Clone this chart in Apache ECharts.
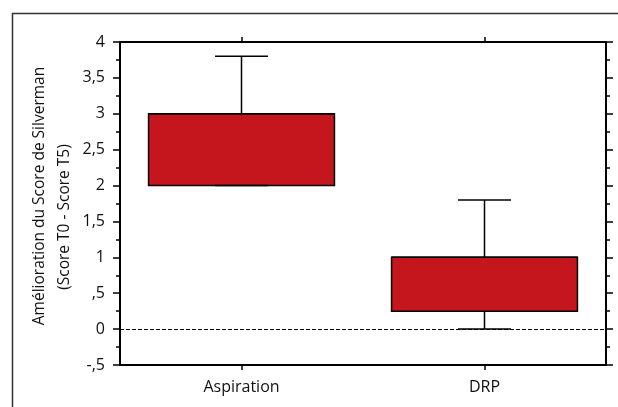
<!DOCTYPE html>
<html>
<head>
<meta charset="utf-8">
<script src="https://cdn.jsdelivr.net/npm/echarts@6/dist/echarts.min.js"></script>
<style>
html,body{margin:0;padding:0;background:#fff;}
#chart{width:618px;height:407px;}
</style>
</head>
<body>
<div id="chart"></div>
<script>
// ---- data ----
const categories = ['Aspiration', 'DRP'];
const whiskerLow = [2, 0];
const q1Values = [2, 0.25];
const medianValues = [3, 1];
const q3Values = [3, 1];
const whiskerHigh = [3.8, 1.8];
const yTickLabels = ['-,5', '0', ',5', '1', '1,5', '2', '2,5', '3', '3,5', '4'];
const yMin = -0.5, yMax = 4, yStep = 0.5;
const yTitle1 = 'Amélioration du Score de Silverman';
const yTitle2 = '(Score T0 - Score T5)';

const FONT = 'Open Sans';
const boxData = categories.map((c, i) => [i, whiskerLow[i], q1Values[i], medianValues[i], q3Values[i], whiskerHigh[i]]);

const chart = echarts.init(document.getElementById('chart'), null, {renderer: 'canvas'});

const yAxisBase = {
  type: 'value', min: yMin, max: yMax, interval: yStep,
  axisLine: {show: true, lineStyle: {color: '#000', width: 2}},
  axisTick: {show: true, inside: false, length: 7, lineStyle: {color: '#000', width: 1.5}},
  minorTick: {show: true, splitNumber: 2, length: 4, lineStyle: {color: '#000', width: 1.5}},
  splitLine: {show: false}
};

const xAxisBase = {
  type: 'category', data: categories, boundaryGap: true,
  axisLine: {show: true, onZero: false, lineStyle: {color: '#000', width: 2}},
  axisTick: {show: true, alignWithLabel: true, inside: false, length: 5, lineStyle: {color: '#000', width: 1.5}},
  splitLine: {show: false}
};

chart.setOption({
  animation: false,
  backgroundColor: '#fff',
  grid: {left: 120, right: 12, top: 42, bottom: 42},
  xAxis: [
    Object.assign({}, xAxisBase, {position: 'bottom',
      axisLabel: {show: true, margin: 14, color: '#111', fontFamily: FONT, fontSize: 16}}),
    Object.assign({}, xAxisBase, {position: 'top', axisLabel: {show: false}})
  ],
  yAxis: [
    Object.assign({}, yAxisBase, {position: 'left',
      axisLabel: {show: true, margin: 15, color: '#111', fontFamily: FONT, fontSize: 16,
        formatter: v => yTickLabels[Math.round((v - yMin) / yStep)]}}),
    Object.assign({}, yAxisBase, {position: 'right', axisLabel: {show: false}})
  ],
  graphic: [
    {type: 'rect', z: -10, silent: true,
     shape: {x: 12.5, y: 13.5, width: 700, height: 600},
     style: {fill: 'none', stroke: '#333', lineWidth: 1.5}},
    {type: 'text', x: 40, y: 196, rotation: Math.PI / 2,
     style: {text: yTitle1, fontFamily: FONT, fontSize: 15.5, fill: '#111', align: 'center', verticalAlign: 'middle'}},
    {type: 'text', x: 65, y: 217, rotation: Math.PI / 2,
     style: {text: yTitle2, fontFamily: FONT, fontSize: 15.5, fill: '#111', align: 'center', verticalAlign: 'middle'}}
  ],
  series: [{
    type: 'custom',
    xAxisIndex: 0, yAxisIndex: 0,
    data: boxData,
    encode: {x: 0, y: [1, 2, 3, 4, 5]},
    renderItem: function (params, api) {
      const xi = api.value(0);
      const band = api.size([1, 0])[0];
      const boxW = band * 0.765;
      const capW = band * 0.218;
      const pLo = api.coord([xi, api.value(1)]);
      const pQ1 = api.coord([xi, api.value(2)]);
      const pMed = api.coord([xi, api.value(3)]);
      const pQ3 = api.coord([xi, api.value(4)]);
      const pHi = api.coord([xi, api.value(5)]);
      const cx = pQ1[0];
      const ls = {stroke: '#000', lineWidth: 1.5};
      return {
        type: 'group',
        children: [
          {type: 'line', shape: {x1: cx, y1: pHi[1], x2: cx, y2: pQ3[1]}, style: ls},
          {type: 'line', shape: {x1: cx, y1: pQ1[1], x2: cx, y2: pLo[1]}, style: ls},
          {type: 'line', shape: {x1: cx - capW / 2, y1: pHi[1], x2: cx + capW / 2, y2: pHi[1]}, style: ls},
          {type: 'rect', shape: {x: cx - boxW / 2, y: pQ3[1], width: boxW, height: pQ1[1] - pQ3[1]},
           style: {fill: '#C4161C', stroke: '#000', lineWidth: 1.5}},
          {type: 'line', shape: {x1: cx - boxW / 2, y1: pMed[1], x2: cx + boxW / 2, y2: pMed[1]}, style: ls},
          {type: 'line', shape: {x1: cx - capW / 2, y1: pLo[1], x2: cx + capW / 2, y2: pLo[1]}, style: ls}
        ]
      };
    },
    markLine: {
      silent: true, symbol: ['none', 'none'], label: {show: false},
      lineStyle: {color: '#000', width: 1.2, type: [4, 2]},
      data: [{yAxis: 0}]
    }
  }]
});
</script>
</body>
</html>
